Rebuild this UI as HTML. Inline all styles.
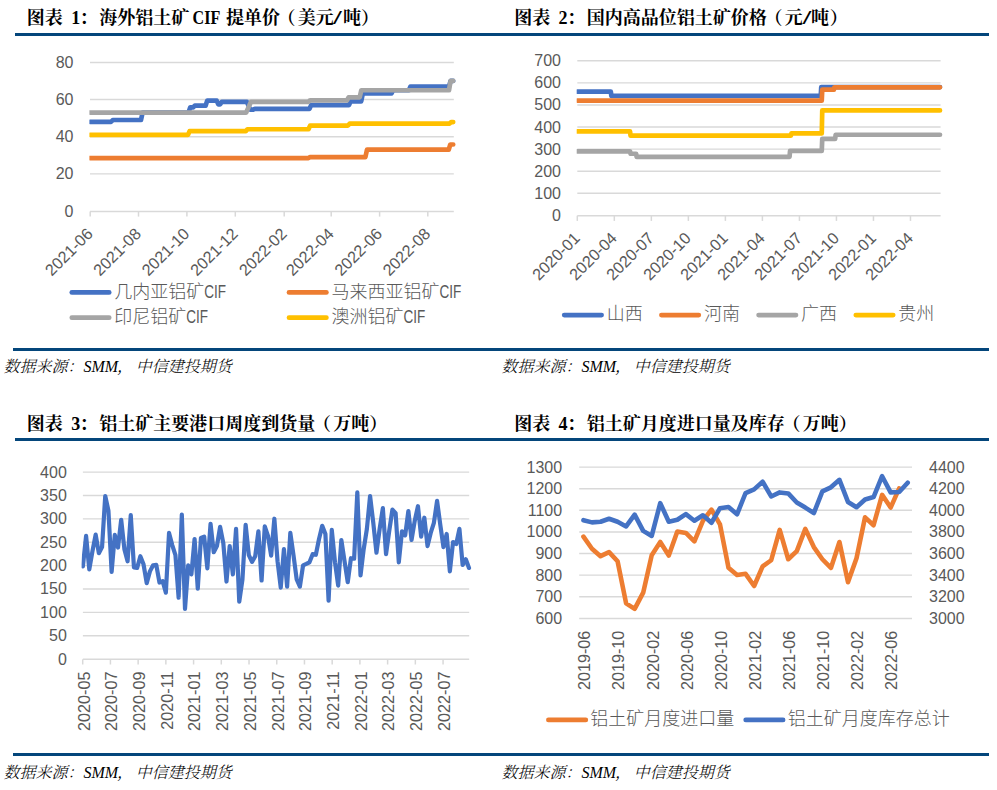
<!DOCTYPE html>
<html lang="zh-CN">
<head>
<meta charset="utf-8">
<title>铝土矿图表</title>
<style>
html,body{margin:0;padding:0;background:#fff;}
svg{display:block;}
text{white-space:pre;}
</style>
</head>
<body>
<svg width="997" height="790" viewBox="0 0 997 790">
<rect width="997" height="790" fill="#fff"/>
<defs><clipPath id="c1"><rect x="89.4" y="40" width="400" height="180"/></clipPath><clipPath id="c2"><rect x="576.7" y="40" width="400" height="180"/></clipPath><clipPath id="c3"><rect x="81.6" y="450" width="420" height="215"/></clipPath></defs>
<rect x="15" y="33" width="974" height="3" fill="#04467B"/>
<rect x="13" y="348" width="976" height="3" fill="#04467B"/>
<rect x="15" y="438" width="974" height="3" fill="#04467B"/>
<rect x="13" y="753" width="976" height="3" fill="#04467B"/>
<text y="24.3" font-size="18" font-weight="700" fill="#000" font-family='"Liberation Serif","Noto Serif CJK SC",serif'><tspan x="26.8">图表</tspan><tspan x="71.2">1</tspan><tspan x="79.6">：</tspan><tspan x="99.3">海外铝土矿</tspan><tspan x="192.6" textLength="27.6" lengthAdjust="spacingAndGlyphs">CIF</tspan><tspan x="226">提单价</tspan><tspan x="277.6">（</tspan><tspan x="297.7">美元</tspan><tspan x="333.3" textLength="8.5" lengthAdjust="spacingAndGlyphs">/</tspan><tspan x="343">吨</tspan><tspan x="361">）</tspan></text>
<text y="24.3" font-size="18" font-weight="700" fill="#000" font-family='"Liberation Serif","Noto Serif CJK SC",serif'><tspan x="514.2">图表</tspan><tspan x="558.6">2</tspan><tspan x="567">：</tspan><tspan x="586.7">国内高品位铝土矿价格</tspan><tspan x="764.4">（</tspan><tspan x="784.7">元</tspan><tspan x="802.7" textLength="8.5" lengthAdjust="spacingAndGlyphs">/</tspan><tspan x="810.9">吨</tspan><tspan x="829.7">）</tspan></text>
<text y="429.6" font-size="18" font-weight="700" fill="#000" font-family='"Liberation Serif","Noto Serif CJK SC",serif'><tspan x="26.8">图表</tspan><tspan x="71.2">3</tspan><tspan x="79.6">：</tspan><tspan x="99.3">铝土矿主要港口周度到货量</tspan><tspan x="313">（</tspan><tspan x="333.3">万吨</tspan><tspan x="369.3">）</tspan></text>
<text y="429.6" font-size="18" font-weight="700" fill="#000" font-family='"Liberation Serif","Noto Serif CJK SC",serif'><tspan x="514.2">图表</tspan><tspan x="558.6">4</tspan><tspan x="567">：</tspan><tspan x="586.7">铝土矿月度进口量及库存</tspan><tspan x="782.4">（</tspan><tspan x="802.7">万吨</tspan><tspan x="838.7">）</tspan></text>
<text y="372" font-size="16" font-style="italic" font-weight="300" fill="#000" font-family='"Liberation Serif","Noto Serif CJK SC",serif'><tspan x="3.5">数据来源：</tspan><tspan x="83.5">SMM</tspan><tspan x="116.9">，</tspan><tspan x="135.8">中信建投期货</tspan></text>
<text y="372" font-size="16" font-style="italic" font-weight="300" fill="#000" font-family='"Liberation Serif","Noto Serif CJK SC",serif'><tspan x="501.5">数据来源：</tspan><tspan x="581.5">SMM</tspan><tspan x="614.9">，</tspan><tspan x="633.8">中信建投期货</tspan></text>
<text y="778" font-size="16" font-style="italic" font-weight="300" fill="#000" font-family='"Liberation Serif","Noto Serif CJK SC",serif'><tspan x="3.5">数据来源：</tspan><tspan x="83.5">SMM</tspan><tspan x="116.9">，</tspan><tspan x="135.8">中信建投期货</tspan></text>
<text y="778" font-size="16" font-style="italic" font-weight="300" fill="#000" font-family='"Liberation Serif","Noto Serif CJK SC",serif'><tspan x="501.5">数据来源：</tspan><tspan x="581.5">SMM</tspan><tspan x="614.9">，</tspan><tspan x="633.8">中信建投期货</tspan></text>
<line x1="90" y1="173.85" x2="453.8" y2="173.85" stroke="#D9D9D9" stroke-width="1.45"/>
<line x1="90" y1="136.7" x2="453.8" y2="136.7" stroke="#D9D9D9" stroke-width="1.45"/>
<line x1="90" y1="99.55" x2="453.8" y2="99.55" stroke="#D9D9D9" stroke-width="1.45"/>
<line x1="90" y1="62.4" x2="453.8" y2="62.4" stroke="#D9D9D9" stroke-width="1.45"/>
<line x1="90" y1="211.4" x2="453.8" y2="211.4" stroke="#D9D9D9" stroke-width="1.45"/>
<line x1="90.2" y1="211.4" x2="90.2" y2="216.6" stroke="#D9D9D9" stroke-width="1.5"/>
<line x1="138.5" y1="211.4" x2="138.5" y2="216.6" stroke="#D9D9D9" stroke-width="1.5"/>
<line x1="186.9" y1="211.4" x2="186.9" y2="216.6" stroke="#D9D9D9" stroke-width="1.5"/>
<line x1="235.3" y1="211.4" x2="235.3" y2="216.6" stroke="#D9D9D9" stroke-width="1.5"/>
<line x1="284.2" y1="211.4" x2="284.2" y2="216.6" stroke="#D9D9D9" stroke-width="1.5"/>
<line x1="331.2" y1="211.4" x2="331.2" y2="216.6" stroke="#D9D9D9" stroke-width="1.5"/>
<line x1="379.6" y1="211.4" x2="379.6" y2="216.6" stroke="#D9D9D9" stroke-width="1.5"/>
<line x1="427.8" y1="211.4" x2="427.8" y2="216.6" stroke="#D9D9D9" stroke-width="1.5"/>
<text x="73.5" y="216.6" font-size="16.0" text-anchor="end" fill="#595959" font-family='"Liberation Sans","Noto Sans CJK SC",sans-serif'>0</text>
<text x="73.5" y="179.45" font-size="16.0" text-anchor="end" fill="#595959" font-family='"Liberation Sans","Noto Sans CJK SC",sans-serif'>20</text>
<text x="73.5" y="142.3" font-size="16.0" text-anchor="end" fill="#595959" font-family='"Liberation Sans","Noto Sans CJK SC",sans-serif'>40</text>
<text x="73.5" y="105.15" font-size="16.0" text-anchor="end" fill="#595959" font-family='"Liberation Sans","Noto Sans CJK SC",sans-serif'>60</text>
<text x="73.5" y="68" font-size="16.0" text-anchor="end" fill="#595959" font-family='"Liberation Sans","Noto Sans CJK SC",sans-serif'>80</text>
<text transform="translate(93.8,234.8) rotate(-45)" font-size="16.2" text-anchor="end" fill="#595959" font-family='"Liberation Sans","Noto Sans CJK SC",sans-serif'>2021-06</text>
<text transform="translate(142.1,234.8) rotate(-45)" font-size="16.2" text-anchor="end" fill="#595959" font-family='"Liberation Sans","Noto Sans CJK SC",sans-serif'>2021-08</text>
<text transform="translate(190.5,234.8) rotate(-45)" font-size="16.2" text-anchor="end" fill="#595959" font-family='"Liberation Sans","Noto Sans CJK SC",sans-serif'>2021-10</text>
<text transform="translate(238.9,234.8) rotate(-45)" font-size="16.2" text-anchor="end" fill="#595959" font-family='"Liberation Sans","Noto Sans CJK SC",sans-serif'>2021-12</text>
<text transform="translate(287.8,234.8) rotate(-45)" font-size="16.2" text-anchor="end" fill="#595959" font-family='"Liberation Sans","Noto Sans CJK SC",sans-serif'>2022-02</text>
<text transform="translate(334.8,234.8) rotate(-45)" font-size="16.2" text-anchor="end" fill="#595959" font-family='"Liberation Sans","Noto Sans CJK SC",sans-serif'>2022-04</text>
<text transform="translate(383.2,234.8) rotate(-45)" font-size="16.2" text-anchor="end" fill="#595959" font-family='"Liberation Sans","Noto Sans CJK SC",sans-serif'>2022-06</text>
<text transform="translate(431.4,234.8) rotate(-45)" font-size="16.2" text-anchor="end" fill="#595959" font-family='"Liberation Sans","Noto Sans CJK SC",sans-serif'>2022-08</text>
<polyline points="90,121.84 111.2,121.84 112.8,119.98 141,119.98 142.6,112.55 188.6,112.55 190.2,107.35 193.2,107.35 194.8,105.68 205.6,105.68 207.2,100.66 216.7,100.66 218.3,104.38 220.2,104.38 221.8,101.78 246.9,101.78 250.1,109.58 253.2,109.58 254.8,108.84 309.5,108.84 311.1,105.12 349,105.12 350.6,101.41 361.2,101.41 362.8,93.42 391.5,93.42 393.1,90.26 408.9,90.26 410.5,86.55 449,86.55 450.6,80.97 453.2,80.97" fill="none" stroke="#4472C4" stroke-width="4.7" stroke-linejoin="round" stroke-linecap="round" clip-path="url(#c1)"/>
<polyline points="90,158.06 308.5,158.06 310.1,157.13 365.4,157.13 367,149.7 448.7,149.7 450.3,144.5 453.2,144.5" fill="none" stroke="#ED7D31" stroke-width="4.7" stroke-linejoin="round" stroke-linecap="round" clip-path="url(#c1)"/>
<polyline points="90,112.55 246.2,112.55 251,101.78 308.5,101.78 310.1,100.29 347,100.29 348.6,97.32 359.7,97.32 361.3,90.26 449,90.26 450.6,80.97 453.2,80.97" fill="none" stroke="#A5A5A5" stroke-width="4.7" stroke-linejoin="round" stroke-linecap="round" clip-path="url(#c1)"/>
<polyline points="90,134.84 188,134.84 189.6,131.13 245.8,131.13 247.4,129.27 308.5,129.27 310.1,125.56 348,125.56 349.6,123.7 449.5,123.7 451.1,122.03 453.2,122.03" fill="none" stroke="#FFC000" stroke-width="4.7" stroke-linejoin="round" stroke-linecap="round" clip-path="url(#c1)"/>
<line x1="71.8" y1="292.4" x2="109.2" y2="292.4" stroke="#4472C4" stroke-width="4.7" stroke-linecap="round"/>
<text x="114.2" y="297.7" font-size="18" font-weight="300" fill="#595959" font-family='"Liberation Sans","Noto Sans CJK SC",sans-serif'>几内亚铝矿<tspan font-size="18.2" textLength="21.8" lengthAdjust="spacingAndGlyphs">CIF</tspan></text>
<line x1="71.8" y1="317.7" x2="109.2" y2="317.7" stroke="#A5A5A5" stroke-width="4.7" stroke-linecap="round"/>
<text x="114.2" y="323" font-size="18" font-weight="300" fill="#595959" font-family='"Liberation Sans","Noto Sans CJK SC",sans-serif'>印尼铝矿<tspan font-size="18.2" textLength="21.8" lengthAdjust="spacingAndGlyphs">CIF</tspan></text>
<line x1="289" y1="292.4" x2="326.4" y2="292.4" stroke="#ED7D31" stroke-width="4.7" stroke-linecap="round"/>
<text x="331.6" y="297.7" font-size="18" font-weight="300" fill="#595959" font-family='"Liberation Sans","Noto Sans CJK SC",sans-serif'>马来西亚铝矿<tspan font-size="18.2" textLength="21.8" lengthAdjust="spacingAndGlyphs">CIF</tspan></text>
<line x1="289" y1="317.7" x2="326.4" y2="317.7" stroke="#FFC000" stroke-width="4.7" stroke-linecap="round"/>
<text x="331.6" y="323" font-size="18" font-weight="300" fill="#595959" font-family='"Liberation Sans","Noto Sans CJK SC",sans-serif'>澳洲铝矿<tspan font-size="18.2" textLength="21.8" lengthAdjust="spacingAndGlyphs">CIF</tspan></text>
<line x1="577.3" y1="193.31" x2="940.6" y2="193.31" stroke="#D9D9D9" stroke-width="1.45"/>
<line x1="577.3" y1="171.22" x2="940.6" y2="171.22" stroke="#D9D9D9" stroke-width="1.45"/>
<line x1="577.3" y1="149.13" x2="940.6" y2="149.13" stroke="#D9D9D9" stroke-width="1.45"/>
<line x1="577.3" y1="127.04" x2="940.6" y2="127.04" stroke="#D9D9D9" stroke-width="1.45"/>
<line x1="577.3" y1="104.95" x2="940.6" y2="104.95" stroke="#D9D9D9" stroke-width="1.45"/>
<line x1="577.3" y1="82.86" x2="940.6" y2="82.86" stroke="#D9D9D9" stroke-width="1.45"/>
<line x1="577.3" y1="60.77" x2="940.6" y2="60.77" stroke="#D9D9D9" stroke-width="1.45"/>
<line x1="577.3" y1="215.7" x2="940.6" y2="215.7" stroke="#D9D9D9" stroke-width="1.45"/>
<line x1="577.3" y1="215.7" x2="577.3" y2="220.9" stroke="#D9D9D9" stroke-width="1.5"/>
<line x1="614.32" y1="215.7" x2="614.32" y2="220.9" stroke="#D9D9D9" stroke-width="1.5"/>
<line x1="651.34" y1="215.7" x2="651.34" y2="220.9" stroke="#D9D9D9" stroke-width="1.5"/>
<line x1="688.36" y1="215.7" x2="688.36" y2="220.9" stroke="#D9D9D9" stroke-width="1.5"/>
<line x1="725.38" y1="215.7" x2="725.38" y2="220.9" stroke="#D9D9D9" stroke-width="1.5"/>
<line x1="762.4" y1="215.7" x2="762.4" y2="220.9" stroke="#D9D9D9" stroke-width="1.5"/>
<line x1="799.42" y1="215.7" x2="799.42" y2="220.9" stroke="#D9D9D9" stroke-width="1.5"/>
<line x1="836.44" y1="215.7" x2="836.44" y2="220.9" stroke="#D9D9D9" stroke-width="1.5"/>
<line x1="873.46" y1="215.7" x2="873.46" y2="220.9" stroke="#D9D9D9" stroke-width="1.5"/>
<line x1="910.48" y1="215.7" x2="910.48" y2="220.9" stroke="#D9D9D9" stroke-width="1.5"/>
<text x="561" y="220.9" font-size="16.0" text-anchor="end" fill="#595959" font-family='"Liberation Sans","Noto Sans CJK SC",sans-serif'>0</text>
<text x="561" y="198.81" font-size="16.0" text-anchor="end" fill="#595959" font-family='"Liberation Sans","Noto Sans CJK SC",sans-serif'>100</text>
<text x="561" y="176.72" font-size="16.0" text-anchor="end" fill="#595959" font-family='"Liberation Sans","Noto Sans CJK SC",sans-serif'>200</text>
<text x="561" y="154.63" font-size="16.0" text-anchor="end" fill="#595959" font-family='"Liberation Sans","Noto Sans CJK SC",sans-serif'>300</text>
<text x="561" y="132.54" font-size="16.0" text-anchor="end" fill="#595959" font-family='"Liberation Sans","Noto Sans CJK SC",sans-serif'>400</text>
<text x="561" y="110.45" font-size="16.0" text-anchor="end" fill="#595959" font-family='"Liberation Sans","Noto Sans CJK SC",sans-serif'>500</text>
<text x="561" y="88.36" font-size="16.0" text-anchor="end" fill="#595959" font-family='"Liberation Sans","Noto Sans CJK SC",sans-serif'>600</text>
<text x="561" y="66.27" font-size="16.0" text-anchor="end" fill="#595959" font-family='"Liberation Sans","Noto Sans CJK SC",sans-serif'>700</text>
<text transform="translate(580.9,239.2) rotate(-45)" font-size="16.2" text-anchor="end" fill="#595959" font-family='"Liberation Sans","Noto Sans CJK SC",sans-serif'>2020-01</text>
<text transform="translate(617.92,239.2) rotate(-45)" font-size="16.2" text-anchor="end" fill="#595959" font-family='"Liberation Sans","Noto Sans CJK SC",sans-serif'>2020-04</text>
<text transform="translate(654.94,239.2) rotate(-45)" font-size="16.2" text-anchor="end" fill="#595959" font-family='"Liberation Sans","Noto Sans CJK SC",sans-serif'>2020-07</text>
<text transform="translate(691.96,239.2) rotate(-45)" font-size="16.2" text-anchor="end" fill="#595959" font-family='"Liberation Sans","Noto Sans CJK SC",sans-serif'>2020-10</text>
<text transform="translate(728.98,239.2) rotate(-45)" font-size="16.2" text-anchor="end" fill="#595959" font-family='"Liberation Sans","Noto Sans CJK SC",sans-serif'>2021-01</text>
<text transform="translate(766,239.2) rotate(-45)" font-size="16.2" text-anchor="end" fill="#595959" font-family='"Liberation Sans","Noto Sans CJK SC",sans-serif'>2021-04</text>
<text transform="translate(803.02,239.2) rotate(-45)" font-size="16.2" text-anchor="end" fill="#595959" font-family='"Liberation Sans","Noto Sans CJK SC",sans-serif'>2021-07</text>
<text transform="translate(840.04,239.2) rotate(-45)" font-size="16.2" text-anchor="end" fill="#595959" font-family='"Liberation Sans","Noto Sans CJK SC",sans-serif'>2021-10</text>
<text transform="translate(877.06,239.2) rotate(-45)" font-size="16.2" text-anchor="end" fill="#595959" font-family='"Liberation Sans","Noto Sans CJK SC",sans-serif'>2022-01</text>
<text transform="translate(914.08,239.2) rotate(-45)" font-size="16.2" text-anchor="end" fill="#595959" font-family='"Liberation Sans","Noto Sans CJK SC",sans-serif'>2022-04</text>
<polyline points="577.3,91.7 610.85,91.7 611.35,95.89 820.75,95.89 821.25,87.06 940,87.06" fill="none" stroke="#4472C4" stroke-width="4.7" stroke-linejoin="round" stroke-linecap="round" clip-path="url(#c2)"/>
<polyline points="577.3,100.53 821.75,100.53 822.25,89.71 833.85,89.71 834.35,87.28 940,87.28" fill="none" stroke="#ED7D31" stroke-width="4.7" stroke-linejoin="round" stroke-linecap="round" clip-path="url(#c2)"/>
<polyline points="577.3,151.34 630.05,151.34 630.55,153.77 636.15,153.77 636.65,156.86 789.55,156.86 790.05,150.9 821.75,150.9 822.25,138.97 835.15,138.97 835.65,134.77 940,134.77" fill="none" stroke="#A5A5A5" stroke-width="4.7" stroke-linejoin="round" stroke-linecap="round" clip-path="url(#c2)"/>
<polyline points="577.3,131.46 630.05,131.46 630.55,135.66 790.85,135.66 791.35,133.45 821.75,133.45 822.25,110.47 940,110.47" fill="none" stroke="#FFC000" stroke-width="4.7" stroke-linejoin="round" stroke-linecap="round" clip-path="url(#c2)"/>
<line x1="564.2" y1="315.1" x2="601.6" y2="315.1" stroke="#4472C4" stroke-width="4.7" stroke-linecap="round"/>
<text x="606.7" y="320.3" font-size="18" font-weight="300" fill="#595959" font-family='"Liberation Sans","Noto Sans CJK SC",sans-serif'>山西</text>
<line x1="661.4" y1="315.1" x2="698.8" y2="315.1" stroke="#ED7D31" stroke-width="4.7" stroke-linecap="round"/>
<text x="703.9" y="320.3" font-size="18" font-weight="300" fill="#595959" font-family='"Liberation Sans","Noto Sans CJK SC",sans-serif'>河南</text>
<line x1="758.6" y1="315.1" x2="796" y2="315.1" stroke="#A5A5A5" stroke-width="4.7" stroke-linecap="round"/>
<text x="801.1" y="320.3" font-size="18" font-weight="300" fill="#595959" font-family='"Liberation Sans","Noto Sans CJK SC",sans-serif'>广西</text>
<line x1="855.8" y1="315.1" x2="893.2" y2="315.1" stroke="#FFC000" stroke-width="4.7" stroke-linecap="round"/>
<text x="898.3" y="320.3" font-size="18" font-weight="300" fill="#595959" font-family='"Liberation Sans","Noto Sans CJK SC",sans-serif'>贵州</text>
<line x1="82.9" y1="635.73" x2="469.2" y2="635.73" stroke="#D9D9D9" stroke-width="1.45"/>
<line x1="82.9" y1="612.35" x2="469.2" y2="612.35" stroke="#D9D9D9" stroke-width="1.45"/>
<line x1="82.9" y1="588.98" x2="469.2" y2="588.98" stroke="#D9D9D9" stroke-width="1.45"/>
<line x1="82.9" y1="565.6" x2="469.2" y2="565.6" stroke="#D9D9D9" stroke-width="1.45"/>
<line x1="82.9" y1="542.23" x2="469.2" y2="542.23" stroke="#D9D9D9" stroke-width="1.45"/>
<line x1="82.9" y1="518.85" x2="469.2" y2="518.85" stroke="#D9D9D9" stroke-width="1.45"/>
<line x1="82.9" y1="495.48" x2="469.2" y2="495.48" stroke="#D9D9D9" stroke-width="1.45"/>
<line x1="82.9" y1="472.1" x2="469.2" y2="472.1" stroke="#D9D9D9" stroke-width="1.45"/>
<line x1="82.9" y1="659.3" x2="469.2" y2="659.3" stroke="#D9D9D9" stroke-width="1.45"/>
<line x1="82.7" y1="659.3" x2="82.7" y2="664.5" stroke="#D9D9D9" stroke-width="1.5"/>
<line x1="110.42" y1="659.3" x2="110.42" y2="664.5" stroke="#D9D9D9" stroke-width="1.5"/>
<line x1="138.14" y1="659.3" x2="138.14" y2="664.5" stroke="#D9D9D9" stroke-width="1.5"/>
<line x1="165.86" y1="659.3" x2="165.86" y2="664.5" stroke="#D9D9D9" stroke-width="1.5"/>
<line x1="193.58" y1="659.3" x2="193.58" y2="664.5" stroke="#D9D9D9" stroke-width="1.5"/>
<line x1="221.3" y1="659.3" x2="221.3" y2="664.5" stroke="#D9D9D9" stroke-width="1.5"/>
<line x1="249.02" y1="659.3" x2="249.02" y2="664.5" stroke="#D9D9D9" stroke-width="1.5"/>
<line x1="276.74" y1="659.3" x2="276.74" y2="664.5" stroke="#D9D9D9" stroke-width="1.5"/>
<line x1="304.46" y1="659.3" x2="304.46" y2="664.5" stroke="#D9D9D9" stroke-width="1.5"/>
<line x1="332.18" y1="659.3" x2="332.18" y2="664.5" stroke="#D9D9D9" stroke-width="1.5"/>
<line x1="359.9" y1="659.3" x2="359.9" y2="664.5" stroke="#D9D9D9" stroke-width="1.5"/>
<line x1="387.62" y1="659.3" x2="387.62" y2="664.5" stroke="#D9D9D9" stroke-width="1.5"/>
<line x1="415.34" y1="659.3" x2="415.34" y2="664.5" stroke="#D9D9D9" stroke-width="1.5"/>
<line x1="443.06" y1="659.3" x2="443.06" y2="664.5" stroke="#D9D9D9" stroke-width="1.5"/>
<text x="66.8" y="664.6" font-size="16.0" text-anchor="end" fill="#595959" font-family='"Liberation Sans","Noto Sans CJK SC",sans-serif'>0</text>
<text x="66.8" y="641.23" font-size="16.0" text-anchor="end" fill="#595959" font-family='"Liberation Sans","Noto Sans CJK SC",sans-serif'>50</text>
<text x="66.8" y="617.85" font-size="16.0" text-anchor="end" fill="#595959" font-family='"Liberation Sans","Noto Sans CJK SC",sans-serif'>100</text>
<text x="66.8" y="594.48" font-size="16.0" text-anchor="end" fill="#595959" font-family='"Liberation Sans","Noto Sans CJK SC",sans-serif'>150</text>
<text x="66.8" y="571.1" font-size="16.0" text-anchor="end" fill="#595959" font-family='"Liberation Sans","Noto Sans CJK SC",sans-serif'>200</text>
<text x="66.8" y="547.73" font-size="16.0" text-anchor="end" fill="#595959" font-family='"Liberation Sans","Noto Sans CJK SC",sans-serif'>250</text>
<text x="66.8" y="524.35" font-size="16.0" text-anchor="end" fill="#595959" font-family='"Liberation Sans","Noto Sans CJK SC",sans-serif'>300</text>
<text x="66.8" y="500.98" font-size="16.0" text-anchor="end" fill="#595959" font-family='"Liberation Sans","Noto Sans CJK SC",sans-serif'>350</text>
<text x="66.8" y="477.6" font-size="16.0" text-anchor="end" fill="#595959" font-family='"Liberation Sans","Noto Sans CJK SC",sans-serif'>400</text>
<text transform="translate(89.5,671.5) rotate(-90)" font-size="16.2" text-anchor="end" fill="#595959" font-family='"Liberation Sans","Noto Sans CJK SC",sans-serif'>2020-05</text>
<text transform="translate(117.22,671.5) rotate(-90)" font-size="16.2" text-anchor="end" fill="#595959" font-family='"Liberation Sans","Noto Sans CJK SC",sans-serif'>2020-07</text>
<text transform="translate(144.94,671.5) rotate(-90)" font-size="16.2" text-anchor="end" fill="#595959" font-family='"Liberation Sans","Noto Sans CJK SC",sans-serif'>2020-09</text>
<text transform="translate(172.66,671.5) rotate(-90)" font-size="16.2" text-anchor="end" fill="#595959" font-family='"Liberation Sans","Noto Sans CJK SC",sans-serif'>2020-11</text>
<text transform="translate(200.38,671.5) rotate(-90)" font-size="16.2" text-anchor="end" fill="#595959" font-family='"Liberation Sans","Noto Sans CJK SC",sans-serif'>2021-01</text>
<text transform="translate(228.1,671.5) rotate(-90)" font-size="16.2" text-anchor="end" fill="#595959" font-family='"Liberation Sans","Noto Sans CJK SC",sans-serif'>2021-03</text>
<text transform="translate(255.82,671.5) rotate(-90)" font-size="16.2" text-anchor="end" fill="#595959" font-family='"Liberation Sans","Noto Sans CJK SC",sans-serif'>2021-05</text>
<text transform="translate(283.54,671.5) rotate(-90)" font-size="16.2" text-anchor="end" fill="#595959" font-family='"Liberation Sans","Noto Sans CJK SC",sans-serif'>2021-07</text>
<text transform="translate(311.26,671.5) rotate(-90)" font-size="16.2" text-anchor="end" fill="#595959" font-family='"Liberation Sans","Noto Sans CJK SC",sans-serif'>2021-09</text>
<text transform="translate(338.98,671.5) rotate(-90)" font-size="16.2" text-anchor="end" fill="#595959" font-family='"Liberation Sans","Noto Sans CJK SC",sans-serif'>2021-11</text>
<text transform="translate(366.7,671.5) rotate(-90)" font-size="16.2" text-anchor="end" fill="#595959" font-family='"Liberation Sans","Noto Sans CJK SC",sans-serif'>2022-01</text>
<text transform="translate(394.42,671.5) rotate(-90)" font-size="16.2" text-anchor="end" fill="#595959" font-family='"Liberation Sans","Noto Sans CJK SC",sans-serif'>2022-03</text>
<text transform="translate(422.14,671.5) rotate(-90)" font-size="16.2" text-anchor="end" fill="#595959" font-family='"Liberation Sans","Noto Sans CJK SC",sans-serif'>2022-05</text>
<text transform="translate(449.86,671.5) rotate(-90)" font-size="16.2" text-anchor="end" fill="#595959" font-family='"Liberation Sans","Noto Sans CJK SC",sans-serif'>2022-07</text>
<polyline points="82.9,566.33 86.09,535.95 89.28,569.37 92.47,551.14 95.66,534.53 98.85,553.16 102.05,547.09 105.24,496.05 108.43,510.63 111.62,571.8 114.81,534.94 118,547.49 121.19,519.75 124.38,549.11 127.57,561.27 130.76,515.09 133.95,567.34 137.15,567.95 140.34,556.2 143.53,564.3 146.72,583.14 149.91,571.39 153.1,565.32 156.29,564.91 159.48,582.53 162.67,581.11 165.86,592.66 169.05,532.91 172.25,545.06 175.44,555.19 178.63,597.72 181.82,514.68 185.01,608.86 188.2,565.32 191.39,574.43 194.58,538.99 197.77,588.61 200.96,537.97 204.15,536.56 207.35,568.35 210.54,523.8 213.73,552.15 216.92,546.08 220.11,526.84 223.3,543.04 226.49,581.52 229.68,546.08 232.87,574.43 236.06,528.86 239.25,601.77 242.45,579.49 245.64,524.81 248.83,555.19 252.02,561.87 255.21,556.2 258.4,531.29 261.59,580.51 264.78,526.43 267.97,535.95 271.16,555.59 274.35,518.73 277.55,561.27 280.74,587.59 283.93,549.11 287.12,586.58 290.31,532.91 293.5,555.19 296.69,579.49 299.88,586.58 303.07,565.32 306.26,563.9 309.45,562.28 312.65,554.18 315.84,554.78 319.03,538.99 322.22,525.82 325.41,533.92 328.6,600.76 331.79,529.87 334.98,562.28 338.17,585.57 341.36,540 344.55,561.27 347.75,582.13 350.94,558.23 354.13,558.63 357.32,492.41 360.51,575.44 363.7,549.11 366.89,528.86 370.08,496.05 373.27,522.78 376.46,552.76 379.65,528.86 382.85,508.2 386.04,554.18 389.23,530.89 392.42,509.62 395.61,513.06 398.8,562.28 401.99,531.29 405.18,535.34 408.37,511.04 411.56,540 414.75,520.76 417.95,506.18 421.14,536.56 424.33,517.72 427.52,546.08 430.71,532.91 433.9,522.78 437.09,500.91 440.28,524.81 443.47,547.09 446.66,533.92 449.85,571.39 453.05,542.03 456.24,544.05 459.43,528.86 462.62,564.91 465.81,559.24 469,567.95" fill="none" stroke="#4472C4" stroke-width="4.2" stroke-linejoin="round" stroke-linecap="round" clip-path="url(#c3)"/>
<line x1="579.2" y1="596.7" x2="912" y2="596.7" stroke="#D9D9D9" stroke-width="1.45"/>
<line x1="579.2" y1="575.1" x2="912" y2="575.1" stroke="#D9D9D9" stroke-width="1.45"/>
<line x1="579.2" y1="553.5" x2="912" y2="553.5" stroke="#D9D9D9" stroke-width="1.45"/>
<line x1="579.2" y1="531.9" x2="912" y2="531.9" stroke="#D9D9D9" stroke-width="1.45"/>
<line x1="579.2" y1="510.3" x2="912" y2="510.3" stroke="#D9D9D9" stroke-width="1.45"/>
<line x1="579.2" y1="488.7" x2="912" y2="488.7" stroke="#D9D9D9" stroke-width="1.45"/>
<line x1="579.2" y1="467.1" x2="912" y2="467.1" stroke="#D9D9D9" stroke-width="1.45"/>
<line x1="579.2" y1="618.4" x2="912" y2="618.4" stroke="#D9D9D9" stroke-width="1.45"/>
<text x="562.1" y="623.8" font-size="16.0" text-anchor="end" fill="#595959" font-family='"Liberation Sans","Noto Sans CJK SC",sans-serif'>600</text>
<text x="562.1" y="602.2" font-size="16.0" text-anchor="end" fill="#595959" font-family='"Liberation Sans","Noto Sans CJK SC",sans-serif'>700</text>
<text x="562.1" y="580.6" font-size="16.0" text-anchor="end" fill="#595959" font-family='"Liberation Sans","Noto Sans CJK SC",sans-serif'>800</text>
<text x="562.1" y="559" font-size="16.0" text-anchor="end" fill="#595959" font-family='"Liberation Sans","Noto Sans CJK SC",sans-serif'>900</text>
<text x="562.1" y="537.4" font-size="16.0" text-anchor="end" fill="#595959" font-family='"Liberation Sans","Noto Sans CJK SC",sans-serif'>1000</text>
<text x="562.1" y="515.8" font-size="16.0" text-anchor="end" fill="#595959" font-family='"Liberation Sans","Noto Sans CJK SC",sans-serif'>1100</text>
<text x="562.1" y="494.2" font-size="16.0" text-anchor="end" fill="#595959" font-family='"Liberation Sans","Noto Sans CJK SC",sans-serif'>1200</text>
<text x="562.1" y="472.6" font-size="16.0" text-anchor="end" fill="#595959" font-family='"Liberation Sans","Noto Sans CJK SC",sans-serif'>1300</text>
<text x="929" y="623.8" font-size="16.0" text-anchor="start" fill="#595959" font-family='"Liberation Sans","Noto Sans CJK SC",sans-serif'>3000</text>
<text x="929" y="602.2" font-size="16.0" text-anchor="start" fill="#595959" font-family='"Liberation Sans","Noto Sans CJK SC",sans-serif'>3200</text>
<text x="929" y="580.6" font-size="16.0" text-anchor="start" fill="#595959" font-family='"Liberation Sans","Noto Sans CJK SC",sans-serif'>3400</text>
<text x="929" y="559" font-size="16.0" text-anchor="start" fill="#595959" font-family='"Liberation Sans","Noto Sans CJK SC",sans-serif'>3600</text>
<text x="929" y="537.4" font-size="16.0" text-anchor="start" fill="#595959" font-family='"Liberation Sans","Noto Sans CJK SC",sans-serif'>3800</text>
<text x="929" y="515.8" font-size="16.0" text-anchor="start" fill="#595959" font-family='"Liberation Sans","Noto Sans CJK SC",sans-serif'>4000</text>
<text x="929" y="494.2" font-size="16.0" text-anchor="start" fill="#595959" font-family='"Liberation Sans","Noto Sans CJK SC",sans-serif'>4200</text>
<text x="929" y="472.6" font-size="16.0" text-anchor="start" fill="#595959" font-family='"Liberation Sans","Noto Sans CJK SC",sans-serif'>4400</text>
<text transform="translate(590.3,630.7) rotate(-90)" font-size="16.2" text-anchor="end" fill="#595959" font-family='"Liberation Sans","Noto Sans CJK SC",sans-serif'>2019-06</text>
<text transform="translate(624.43,630.7) rotate(-90)" font-size="16.2" text-anchor="end" fill="#595959" font-family='"Liberation Sans","Noto Sans CJK SC",sans-serif'>2019-10</text>
<text transform="translate(658.56,630.7) rotate(-90)" font-size="16.2" text-anchor="end" fill="#595959" font-family='"Liberation Sans","Noto Sans CJK SC",sans-serif'>2020-02</text>
<text transform="translate(692.69,630.7) rotate(-90)" font-size="16.2" text-anchor="end" fill="#595959" font-family='"Liberation Sans","Noto Sans CJK SC",sans-serif'>2020-06</text>
<text transform="translate(726.82,630.7) rotate(-90)" font-size="16.2" text-anchor="end" fill="#595959" font-family='"Liberation Sans","Noto Sans CJK SC",sans-serif'>2020-10</text>
<text transform="translate(760.95,630.7) rotate(-90)" font-size="16.2" text-anchor="end" fill="#595959" font-family='"Liberation Sans","Noto Sans CJK SC",sans-serif'>2021-02</text>
<text transform="translate(795.08,630.7) rotate(-90)" font-size="16.2" text-anchor="end" fill="#595959" font-family='"Liberation Sans","Noto Sans CJK SC",sans-serif'>2021-06</text>
<text transform="translate(829.21,630.7) rotate(-90)" font-size="16.2" text-anchor="end" fill="#595959" font-family='"Liberation Sans","Noto Sans CJK SC",sans-serif'>2021-10</text>
<text transform="translate(863.34,630.7) rotate(-90)" font-size="16.2" text-anchor="end" fill="#595959" font-family='"Liberation Sans","Noto Sans CJK SC",sans-serif'>2022-02</text>
<text transform="translate(897.47,630.7) rotate(-90)" font-size="16.2" text-anchor="end" fill="#595959" font-family='"Liberation Sans","Noto Sans CJK SC",sans-serif'>2022-06</text>
<polyline points="583.45,536.56 591.98,548.71 600.52,556.2 609.05,552.15 617.58,561.27 626.12,603.39 634.65,608.86 643.18,592.66 651.71,555.19 660.25,542.03 668.78,555.59 677.31,531.49 685.85,532.91 694.38,541.42 702.91,520.76 711.45,509.62 719.98,524.41 728.51,567.75 737.04,575.04 745.58,573.82 754.11,585.97 762.64,566.33 771.18,560.25 779.71,529.87 788.24,559.24 796.78,551.14 805.31,528.86 813.84,547.09 822.37,559.24 830.91,567.95 839.44,542.03 847.97,582.13 856.51,558.23 865.04,517.32 873.57,525.22 882.11,494.84 890.64,507.59 899.17,488.35" fill="none" stroke="#ED7D31" stroke-width="4.6" stroke-linejoin="round" stroke-linecap="round"/>
<polyline points="583.45,520.15 591.98,522.38 600.52,521.77 609.05,518.73 617.58,521.77 626.12,526.43 634.65,514.68 643.18,530.89 651.71,535.95 660.25,503.14 668.78,521.77 677.31,519.75 685.85,514.08 694.38,520.76 702.91,515.29 711.45,522.78 719.98,508.2 728.51,506.99 737.04,514.28 745.58,493.01 754.11,489.37 762.64,481.67 771.18,496.46 779.71,492.41 788.24,493.42 796.78,502.53 805.31,507.59 813.84,513.06 822.37,491.39 830.91,487.34 839.44,479.85 847.97,501.92 856.51,507.19 865.04,499.49 873.57,497.06 882.11,476.2 890.64,492.41 899.17,492 907.7,482.68" fill="none" stroke="#4472C4" stroke-width="4.6" stroke-linejoin="round" stroke-linecap="round"/>
<line x1="548.4" y1="719.9" x2="585.8" y2="719.9" stroke="#ED7D31" stroke-width="4.7" stroke-linecap="round"/>
<text x="590.2" y="724.9" font-size="18" font-weight="300" fill="#595959" font-family='"Liberation Sans","Noto Sans CJK SC",sans-serif'>铝土矿月度进口量</text>
<line x1="745.7" y1="719.9" x2="783.1" y2="719.9" stroke="#4472C4" stroke-width="4.7" stroke-linecap="round"/>
<text x="787.8" y="724.9" font-size="18" font-weight="300" fill="#595959" font-family='"Liberation Sans","Noto Sans CJK SC",sans-serif'>铝土矿月度库存总计</text>
</svg>
</body>
</html>
